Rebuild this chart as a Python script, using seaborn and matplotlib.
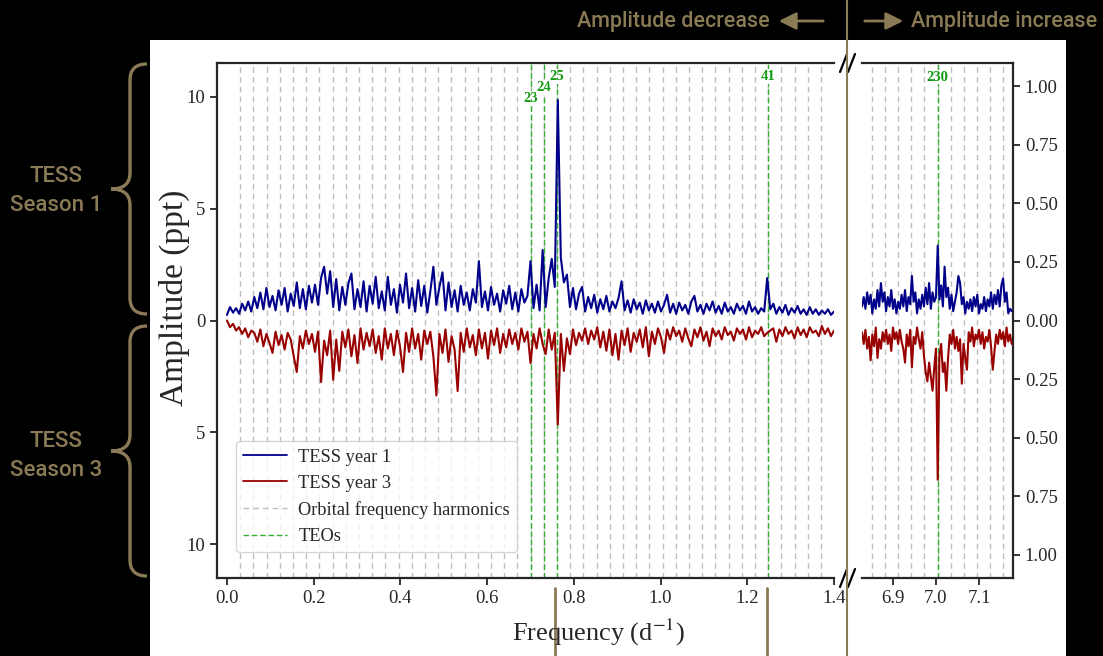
import numpy as np
import matplotlib
matplotlib.use('Agg')
from matplotlib import pyplot as plt
from matplotlib.path import Path
from matplotlib.patches import PathPatch, Rectangle, FancyArrowPatch
from matplotlib.lines import Line2D
import seaborn as sns

# orbital frequency (d^-1) and frequency sampling of the two windows
F_ORB = 0.03045
STEP_LOW = 0.007
START_HIGH = 6.828
STEP_HIGH = 0.004

# amplitude spectra (ppt), 0 - 1.4 d^-1
year1_low = [0.25, 0.60, 0.35, 0.55, 0.30, 0.75, 0.45, 0.85, 0.40, 1.05,
             0.55, 1.25, 0.50, 1.45, 0.60, 1.10, 0.45, 1.35, 0.70, 1.45,
             0.40, 1.20, 0.65, 1.70, 0.55, 1.40, 0.50, 1.55, 0.80, 1.60,
             0.70, 1.90, 2.40, 1.20, 2.20, 0.60, 1.85, 0.45, 1.50, 0.70,
             1.65, 2.10, 0.50, 1.40, 0.60, 1.75, 0.40, 1.55, 0.75, 1.95,
             0.55, 1.30, 0.45, 1.95, 0.70, 1.40, 0.35, 1.60, 0.80, 2.10,
             0.55, 1.45, 0.40, 1.80, 0.65, 1.55, 0.35, 1.30, 2.40, 0.70,
             1.50, 2.15, 0.45, 1.70, 0.60, 1.35, 0.40, 1.55, 0.70, 1.25,
             0.45, 1.40, 0.80, 2.65, 0.60, 1.30, 0.45, 1.50, 0.70, 1.20,
             0.40, 1.35, 0.75, 1.55, 0.50, 1.25, 0.40, 1.40, 0.80, 1.10,
             2.65, 0.55, 1.60, 0.45, 3.15, 0.60, 1.90, 2.75, 1.50, 9.85,
             2.80, 1.70, 2.05, 0.60, 1.45, 0.50, 1.20, 1.50, 0.40, 1.05,
             0.55, 1.15, 0.35, 0.95, 0.50, 1.10, 0.40, 0.85, 0.55, 1.00,
             1.75, 0.45, 0.90, 0.35, 0.95, 0.50, 0.80, 0.30, 0.90, 0.45,
             0.75, 0.35, 0.85, 0.40, 0.70, 1.15, 0.35, 0.75, 0.30, 0.80,
             0.45, 0.70, 0.30, 0.85, 1.10, 0.40, 0.70, 0.30, 0.75, 0.45,
             0.85, 0.35, 0.65, 0.30, 0.80, 0.40, 0.60, 0.30, 0.75, 0.45,
             0.65, 0.30, 0.85, 0.40, 0.60, 0.30, 0.55, 0.40, 1.90, 0.50,
             0.75, 0.30, 0.60, 0.35, 0.70, 0.25, 0.55, 0.35, 0.65, 0.30,
             0.50, 0.25, 0.60, 0.30, 0.50, 0.25, 0.45, 0.30, 0.50, 0.25,
             0.40]
year3_low = [0.00, 0.30, 0.15, 0.45, 0.30, 0.60, 0.35, 0.75, 0.45, 0.55,
             0.95, 0.40, 1.15, 0.60, 1.00, 1.45, 0.50, 1.10, 0.65, 1.30,
             0.55, 0.85, 1.60, 2.30, 0.70, 1.25, 0.45, 1.05, 0.60, 1.40,
             0.50, 2.75, 0.90, 1.55, 0.45, 2.65, 0.85, 2.25, 0.50, 1.20,
             0.40, 1.60, 0.65, 1.90, 0.35, 1.30, 0.55, 1.15, 0.40, 1.45,
             0.70, 1.75, 0.35, 1.25, 0.60, 1.55, 0.45, 1.15, 2.30, 0.55,
             1.40, 0.35, 1.25, 0.60, 1.75, 0.45, 1.05, 0.50, 1.60, 3.35,
             0.60, 1.45, 0.40, 1.85, 0.70, 1.30, 3.15, 0.55, 1.40, 0.35,
             1.20, 0.65, 1.55, 0.40, 1.25, 0.55, 1.70, 0.45, 1.10, 0.35,
             1.45, 0.60, 1.20, 0.40, 1.05, 0.55, 1.30, 0.35, 0.95, 0.50,
             1.90, 0.60, 1.25, 0.35, 1.05, 1.50, 0.40, 1.30, 0.55, 4.65,
             0.60, 2.25, 0.80, 1.50, 0.40, 1.10, 0.55, 0.90, 0.35, 1.05,
             0.45, 0.85, 0.30, 1.20, 0.50, 1.35, 0.40, 1.55, 0.60, 1.75,
             0.45, 1.10, 0.35, 1.40, 0.55, 0.95, 0.40, 1.20, 0.30, 1.60,
             0.50, 1.05, 0.35, 0.75, 1.45, 0.40, 0.85, 0.30, 0.70, 0.45,
             0.95, 0.35, 0.80, 1.15, 0.40, 0.75, 0.30, 0.90, 0.50, 1.15,
             0.35, 0.70, 0.45, 0.85, 0.30, 0.65, 0.50, 0.90, 0.35, 0.60,
             0.40, 0.85, 0.30, 0.75, 0.45, 0.60, 0.30, 0.70, 0.55, 0.45,
             0.35, 0.95, 0.40, 0.70, 0.30, 0.60, 0.45, 0.80, 0.30, 0.65,
             0.40, 0.75, 0.30, 0.55, 0.45, 0.70, 0.25, 0.60, 0.35, 0.70,
             0.45]

# amplitude spectra around 7 d^-1 (right-hand scale)
year1_high = [0.06, 0.10, 0.05, 0.12, 0.07, 0.11, 0.03, 0.09, 0.05, 0.13,
              0.06, 0.16, 0.08, 0.12, 0.04, 0.10, 0.06, 0.13, 0.05, 0.09,
              0.03, 0.08, 0.05, 0.11, 0.06, 0.13, 0.04, 0.10, 0.07, 0.19,
              0.08, 0.12, 0.03, 0.09, 0.05, 0.11, 0.06, 0.14, 0.07, 0.16,
              0.05, 0.12, 0.08, 0.10, 0.32, 0.09, 0.15, 0.06, 0.23, 0.10,
              0.14, 0.05, 0.11, 0.04, 0.08, 0.12, 0.19, 0.16, 0.07, 0.10,
              0.03, 0.08, 0.05, 0.09, 0.04, 0.10, 0.06, 0.11, 0.03, 0.07,
              0.05, 0.10, 0.04, 0.09, 0.06, 0.12, 0.05, 0.11, 0.07, 0.13,
              0.06, 0.15, 0.18, 0.08, 0.12, 0.03, 0.05, 0.04]
year3_high = [0.05, 0.10, 0.04, 0.12, 0.07, 0.17, 0.06, 0.11, 0.03, 0.16,
              0.08, 0.12, 0.05, 0.09, 0.04, 0.10, 0.06, 0.13, 0.03, 0.08,
              0.05, 0.10, 0.04, 0.09, 0.12, 0.18, 0.06, 0.11, 0.04, 0.20,
              0.07, 0.10, 0.03, 0.08, 0.12, 0.05, 0.15, 0.22, 0.26, 0.18,
              0.24, 0.30, 0.20, 0.12, 0.68, 0.15, 0.10, 0.22, 0.18, 0.30,
              0.16, 0.06, 0.10, 0.04, 0.12, 0.07, 0.13, 0.08, 0.27, 0.10,
              0.16, 0.21, 0.05, 0.09, 0.03, 0.11, 0.06, 0.08, 0.04, 0.10,
              0.05, 0.12, 0.07, 0.09, 0.04, 0.11, 0.21, 0.13, 0.06, 0.10,
              0.04, 0.08, 0.05, 0.11, 0.03, 0.09, 0.06, 0.10]

harmonics_low = list(range(1, 46))
harmonics_high = list(range(225, 236))
teo_low = [23, 24, 25, 41]
teo_high = [230]
teo_label_y_low = [9.9, 10.4, 10.9, 10.9]
teo_label_y_high = [1.04]

BLUE = '#00008b'
RED = '#990000'
GREY = '#bdbdbd'
GREEN = '#33b033'
TAN = '#8a7a55'

sns.set_style('ticks')
plt.rcParams['font.family'] = ['Liberation Serif', 'DejaVu Serif']
plt.rcParams['mathtext.fontset'] = 'stix'
plt.rcParams['axes.linewidth'] = 1.6

W, H = 1103, 656
fig = plt.figure(figsize=(W / 100, H / 100), dpi=100, facecolor='black')


def fx(x):
    return x / W


def fy(y):
    return 1 - y / H


fig.patches.append(Rectangle((fx(150), 0), fx(1066) - fx(150), fy(40),
                             transform=fig.transFigure, facecolor='white',
                             edgecolor='none', zorder=-5))

ax1 = fig.add_axes([fx(217), fy(578), fx(834) - fx(217), fy(63) - fy(578)])
ax2 = fig.add_axes([fx(862), fy(578), fx(1013) - fx(862), fy(63) - fy(578)])

f_low = np.arange(len(year1_low)) * STEP_LOW
f_high = START_HIGH + np.arange(len(year1_high)) * STEP_HIGH

for ax, harm in ((ax1, harmonics_low), (ax2, harmonics_high)):
    for n in harm:
        ax.axvline(n * F_ORB, color=GREY, ls=(0, (4, 3)), lw=1, zorder=1)

for ax, teo, ly in ((ax1, teo_low, teo_label_y_low), (ax2, teo_high, teo_label_y_high)):
    for n, y in zip(teo, ly):
        ax.axvline(n * F_ORB, color=GREEN, ls=(0, (4, 2)), lw=1, zorder=2)
        ax.text(n * F_ORB, y, str(n), color='#119911', fontsize=10.5, fontweight='bold',
                ha='center', va='center', zorder=3,
                bbox=dict(facecolor='white', edgecolor='none', pad=0.6))

sns.lineplot(x=f_low, y=year1_low, ax=ax1, color=BLUE, lw=1.5, zorder=4)
sns.lineplot(x=f_low, y=-np.array(year3_low), ax=ax1, color=RED, lw=1.5, zorder=4)
sns.lineplot(x=f_high, y=year1_high, ax=ax2, color=BLUE, lw=1.5, zorder=4)
sns.lineplot(x=f_high, y=-np.array(year3_high), ax=ax2, color=RED, lw=1.5, zorder=4)

ax1.set_xlim(-0.023, 1.4)
ax1.set_ylim(-11.5, 11.5)
ax2.set_xlim(6.828, 7.179)
ax2.set_ylim(-1.1, 1.1)

ax1.set_xticks([0.0, 0.2, 0.4, 0.6, 0.8, 1.0, 1.2, 1.4])
ax1.set_xticklabels(['0.0', '0.2', '0.4', '0.6', '0.8', '1.0', '1.2', '1.4'])
ax1.set_yticks([-10, -5, 0, 5, 10])
ax1.set_yticklabels(['10', '5', '0', '5', '10'])
ax2.set_xticks([6.9, 7.0, 7.1])
ax2.set_xticklabels(['6.9', '7.0', '7.1'])
ax2.set_yticks([-1, -0.75, -0.5, -0.25, 0, 0.25, 0.5, 0.75, 1])
ax2.set_yticklabels(['1.00', '0.75', '0.50', '0.25', '0.00', '0.25', '0.50', '0.75', '1.00'])
ax2.yaxis.tick_right()

ax1.spines['right'].set_visible(False)
ax2.spines['left'].set_visible(False)
for ax in (ax1, ax2):
    ax.set_xlabel('')
    ax.set_ylabel('')
    ax.tick_params(axis='both', labelsize=13.5, length=5, width=1.3, direction='out')
    for s in ax.spines.values():
        s.set_linewidth(1.6)

handles = [Line2D([], [], color=BLUE, lw=1.3),
           Line2D([], [], color=RED, lw=1.3),
           Line2D([], [], color=GREY, lw=1, ls=(0, (4, 3))),
           Line2D([], [], color=GREEN, lw=1, ls=(0, (4, 2)))]
ax1.legend(handles, ['TESS year 1', 'TESS year 3', 'Orbital frequency harmonics', 'TEOs'],
           loc='lower left', bbox_to_anchor=(0.031, 0.05), borderaxespad=0,
           fontsize=13.2, labelspacing=0.5, handlelength=2.4, handletextpad=0.6,
           frameon=True, framealpha=0.8, edgecolor='#cccccc', fancybox=True)

fig.text(fx(174), fy(298), 'Amplitude (ppt)', rotation=90, fontsize=24,
         ha='center', va='center')
fig.text(fx(599), fy(632), 'Frequency (d$^{-1}$)', fontsize=19,
         ha='center', va='center')

# axis break marks
for yc in (63, 578):
    for x0 in (840, 848):
        fig.add_artist(Line2D([fx(x0), fx(x0 + 7)], [fy(yc + 9), fy(yc - 9)],
                              transform=fig.transFigure, color='black', lw=1.6))

# annotations around the figure
fig.add_artist(Line2D([fx(847), fx(847)], [0, 1], transform=fig.transFigure,
                      color=TAN, lw=1.5))
for xl in (555, 767):
    fig.add_artist(Line2D([fx(xl), fx(xl)], [0, fy(588)], transform=fig.transFigure,
                          color=TAN, lw=2))

side_font = ['Roboto', 'DejaVu Sans']
fig.text(fx(770), fy(21), 'Amplitude decrease', color=TAN, fontsize=15.5,
         family=side_font, fontweight='medium', ha='right', va='center')
fig.text(fx(911), fy(21), 'Amplitude increase', color=TAN, fontsize=15.5,
         family=side_font, fontweight='medium', ha='left', va='center')
fig.add_artist(FancyArrowPatch(
    (fx(826), fy(21)), (fx(776), fy(21)), transform=fig.transFigure,
    arrowstyle='-|>', mutation_scale=26, color=TAN, lw=2))
fig.add_artist(FancyArrowPatch(
    (fx(862), fy(21)), (fx(906), fy(21)), transform=fig.transFigure,
    arrowstyle='-|>', mutation_scale=26, color=TAN, lw=2))

fig.text(fx(56), fy(191), 'TESS\nSeason 1', color=TAN, fontsize=16,
         family=side_font, fontweight='medium', ha='center', va='center', linespacing=1.5)
fig.text(fx(56), fy(456), 'TESS\nSeason 3', color=TAN, fontsize=16,
         family=side_font, fontweight='medium', ha='center', va='center', linespacing=1.5)


def brace(top, bottom, xe=147, xv=130, xp=111):
    mid = (top + bottom) / 2
    pts = [(xe, top), (xv, top), (xv, top + 16), (xv, mid - 16), (xv, mid), (xp, mid),
           (xv, mid), (xv, mid + 16), (xv, bottom - 16), (xv, bottom), (xe, bottom)]
    codes = [Path.MOVETO, Path.CURVE3, Path.CURVE3, Path.LINETO, Path.CURVE3, Path.CURVE3,
             Path.CURVE3, Path.CURVE3, Path.LINETO, Path.CURVE3, Path.CURVE3]
    verts = [(fx(x), fy(y)) for x, y in pts]
    fig.add_artist(PathPatch(Path(verts, codes), transform=fig.transFigure,
                             facecolor='none', edgecolor=TAN, lw=2.4))


brace(64, 314)
brace(326, 576)

plt.savefig('out.png', dpi=100, facecolor='black')
